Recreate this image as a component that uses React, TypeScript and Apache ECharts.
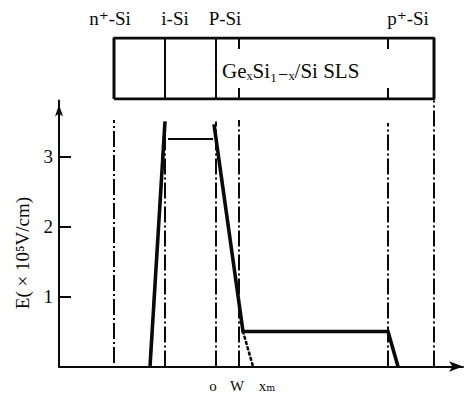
import React, { useEffect, useRef } from "react";
import * as echarts from "echarts";

// ---- data (x in arbitrary position units along the device, E in 1e5 V/cm) ----
const xMax = 404;
const eMax = 3.8;
const layerBounds = [55, 106, 157, 180, 329, 375];
const dashTops = [3.52, 3.5, 3.5, 3.52, 3.48, 3.8];
const dashBottoms = [0.05, 0, 0, 0, 0, 0];
const riseX = [91, 106];
const riseE = [0, 3.5];
const plateauX = [109, 154];
const plateauE = [3.25, 3.25];
const fallX = [155, 184, 329, 339];
const fallE = [3.46, 0.5, 0.5, 0];
const tailX = [184, 194];
const tailE = [0.5, 0];
const yTicks = [1, 2, 3];
const xLabelPos = [154, 178, 208];
const xLabelText = ["o", "W", "xₘ"];
const layerNames = ["n⁺-Si", "i-Si", "P-Si", "p⁺-Si"];
const layerNameX = [110, 175, 225, 408];
const slsName = "GeₓSi₁₋ₓ/Si SLS";
const yName = "E( × 10⁵V/cm)";

const FONT = "'Liberation Serif', 'DejaVu Serif', 'DejaVu Sans', serif";
const INK = "#0a0a0a";

const pairs = (xs: number[], ys: number[]) => xs.map((x, i) => [x, ys[i]]);

export default function App() {
  const ref = useRef<HTMLDivElement>(null);
  useEffect(() => {
    if (!ref.current) return;
    const chart = echarts.init(ref.current, undefined, { renderer: "svg" });
    const L = layerBounds[0];
    const R = layerBounds[5];
    const tickLen = 0.18;
    const option: any = {
      animation: false,
      backgroundColor: "#fff",
      grid: [
        { left: 59, right: 8, top: 100.5, bottom: 30.5 },
        { left: 59, right: 8, top: 38, height: 61 },
      ],
      xAxis: [
        {
          type: "value",
          gridIndex: 0,
          min: 0,
          max: xMax,
          splitLine: { show: false },
          axisTick: { show: false },
          axisLine: {
            lineStyle: { color: INK, width: 2 },
            symbol: ["none", "arrow"],
            symbolSize: [8, 14],
          },
          axisLabel: {
            customValues: xLabelPos,
            formatter: (v: number) => {
              const i = xLabelPos.indexOf(v);
              return i >= 0 ? xLabelText[i] : "";
            },
            color: INK,
            fontFamily: FONT,
            fontSize: 15,
            margin: 12,
          },
        },
        {
          type: "value",
          gridIndex: 1,
          min: 0,
          max: xMax,
          show: false,
        },
      ],
      yAxis: [
        {
          type: "value",
          gridIndex: 0,
          min: 0,
          max: eMax,
          interval: 1,
          splitLine: { show: false },
          axisLine: {
            lineStyle: { color: INK, width: 2 },
            symbol: ["none", "arrow"],
            symbolSize: [6, 12],
            symbolOffset: [0, -4],
          },
          axisTick: {
            customValues: yTicks,
            inside: true,
            length: 12,
            lineStyle: { color: INK, width: 2 },
          },
          axisLabel: {
            customValues: yTicks,
            color: INK,
            fontFamily: FONT,
            fontSize: 19,
            margin: 6,
          },
        },
        {
          type: "value",
          gridIndex: 1,
          min: 0,
          max: 1,
          show: false,
        },
      ],
      series: [
        {
          type: "line",
          xAxisIndex: 1,
          yAxisIndex: 1,
          data: [[L, 0], [R, 0], [R, 1], [L, 1], [L, 0]],
          symbol: "none",
          lineStyle: { color: INK, width: 3 },
          silent: true,
          markLine: {
            silent: true,
            symbol: ["none", "none"],
            label: { show: false },
            lineStyle: { color: INK, width: 2, type: "solid" },
            data: [
              [{ coord: [layerBounds[1], 0] }, { coord: [layerBounds[1], 1] }],
              [{ coord: [layerBounds[2], 0] }, { coord: [layerBounds[2], 1] }],
              [{ coord: [layerBounds[3], 1] }, { coord: [layerBounds[3], 1 - tickLen] }],
              [{ coord: [layerBounds[3], 0] }, { coord: [layerBounds[3], tickLen] }],
              [{ coord: [layerBounds[4], 1] }, { coord: [layerBounds[4], 1 - tickLen] }],
              [{ coord: [layerBounds[4], 0] }, { coord: [layerBounds[4], tickLen] }],
            ],
          },
        },
        {
          type: "line",
          data: pairs(riseX, riseE),
          symbol: "none",
          lineStyle: { color: INK, width: 3.6 },
          silent: true,
        },
        {
          type: "line",
          data: pairs(plateauX, plateauE),
          symbol: "none",
          lineStyle: { color: INK, width: 1.8 },
          silent: true,
        },
        {
          type: "line",
          data: pairs(fallX, fallE),
          symbol: "none",
          lineStyle: { color: INK, width: 3.6, join: "miter" },
          silent: true,
          markLine: {
            silent: true,
            symbol: ["none", "none"],
            label: { show: false },
            lineStyle: { color: INK, width: 2, type: [16, 3, 2, 3] },
            data: layerBounds.map((x, i) => [
              { coord: [x, dashBottoms[i]] },
              { coord: [x, dashTops[i]] },
            ]),
          },
        },
        {
          type: "line",
          data: pairs(tailX, tailE),
          symbol: "none",
          lineStyle: { color: INK, width: 2.6, type: [2, 3.5], cap: "round" },
          silent: true,
        },
      ],
      graphic: [
        ...layerNames.map((t, i) => ({
          type: "text",
          x: layerNameX[i],
          y: 18,
          silent: true,
          style: {
            text: t,
            fill: INK,
            font: `19px ${FONT}`,
            align: "center",
            verticalAlign: "middle",
          },
        })),
        {
          type: "text",
          x: 222,
          y: 71,
          silent: true,
          style: {
            text: slsName,
            fill: INK,
            font: `21px ${FONT}`,
            align: "left",
            verticalAlign: "middle",
          },
        },
        {
          type: "text",
          x: 22,
          y: 253,
          rotation: Math.PI / 2,
          silent: true,
          style: {
            text: yName,
            fill: INK,
            font: `19px ${FONT}`,
            align: "center",
            verticalAlign: "middle",
          },
        },
      ],
    };
    chart.setOption(option);
    return () => chart.dispose();
  }, []);
  return (
    <div
      ref={ref}
      style={{ width: 471, height: 397, position: "absolute", left: 0, top: 0 }}
    />
  );
}
